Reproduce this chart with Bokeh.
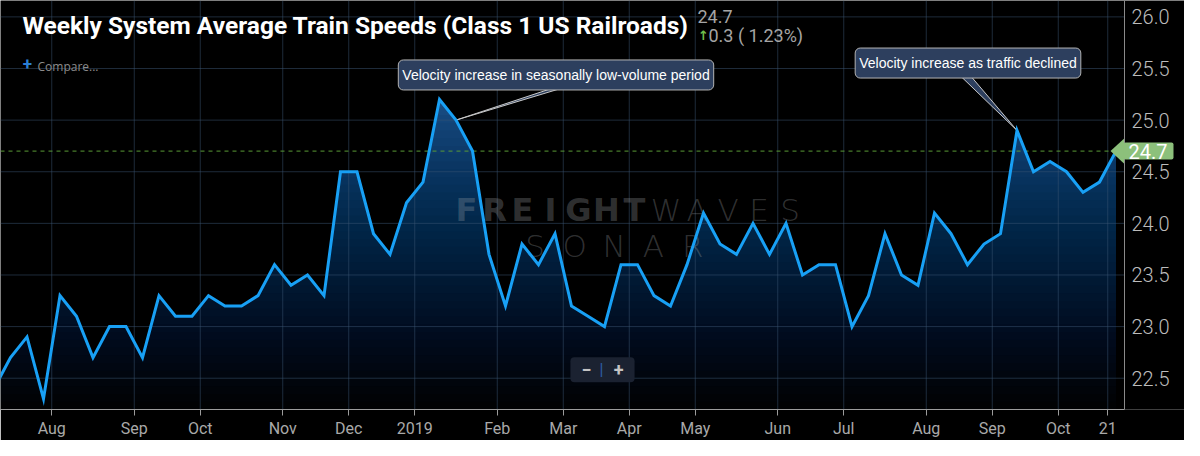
import numpy as np
from bokeh.plotting import figure
from bokeh.models import Range1d, FixedTicker, Label, LinearAxis, NumeralTickFormatter
from bokeh.core.properties import value
from bokeh.embed import file_html
from bokeh.resources import INLINE

# ---------------- data ----------------
# weekly system average train speed (mph); first value is the week just before the visible window
speeds = [22.4,
          22.7, 22.9, 22.3, 23.3, 23.1, 22.7, 23.0, 23.0, 22.7, 23.3,
          23.1, 23.1, 23.3, 23.2, 23.2, 23.3, 23.6, 23.4, 23.5, 23.3,
          24.5, 24.5, 23.9, 23.7, 24.2, 24.4, 25.2, 25.0, 24.7, 23.7,
          23.2, 23.8, 23.6, 23.9, 23.2, 23.1, 23.0, 23.6, 23.6, 23.3,
          23.2, 23.6, 24.1, 23.8, 23.7, 24.0, 23.7, 24.0, 23.5, 23.6,
          23.6, 23.0, 23.3, 23.9, 23.5, 23.4, 24.1, 23.9, 23.6, 23.8,
          23.9, 24.9, 24.5, 24.6, 24.5, 24.3, 24.4, 24.7]
weeks = list(range(len(speeds)))

month_ticks = [3.5, 8.5, 12.5, 17.5, 21.5, 25.5, 30.5, 34.5, 38.5, 42.5,
               47.5, 51.5, 56.5, 60.5, 64.5, 67.5]
month_labels = ["Aug", "Sep", "Oct", "Nov", "Dec", "2019", "Feb", "Mar", "Apr",
                "May", "Jun", "Jul", "Aug", "Sep", "Oct", "21"]
y_ticks = [22.5, 23.0, 23.5, 24.0, 24.5, 25.0, 25.5, 26.0]

latest = speeds[-1]
change = 0.3
change_pct = 1.23
title_text = "Weekly System Average Train Speeds (Class 1 US Railroads)"
note1_text = "Velocity increase in seasonally low-volume period"
note1_week = 28
note2_text = "Velocity increase as traffic declined"
note2_week = 62

# ---------------- layout helpers (screen px of the frame -> data units) ----------------
PX0, PXW = -6.5, 16.5
PY0, PYH = 16.5, 104.0


def fx(px):
    return (px - PX0) / PXW


def fy(py):
    return 26.0 - (py - PY0) / PYH


x0, xe, x1 = fx(0), fx(1124), fx(1184)   # plot edge at 1124px, canvas edge at 1184px
y0, y1 = fy(412), fy(0)

p = figure(width=1184, height=440, x_range=Range1d(x0, x1), y_range=Range1d(y0, y1),
           output_backend="svg", toolbar_location=None, y_axis_location=None,
           min_border_left=0, min_border_top=0, min_border_right=0, min_border_bottom=28,
           background_fill_color="#000000", border_fill_color="#000000",
           outline_line_color=None)
for g in p.grid:
    g.grid_line_color = None
    g.visible = False

# ---------------- gradient area (stacked translucent layers) ----------------
N = 40
top_color = "#194d84"
ytop = max(speeds)


def clip_above(xs, ys, L):
    px, py = [], []
    for i in range(len(xs)):
        if i > 0:
            a, b = ys[i - 1], ys[i]
            if (a - L) * (b - L) < 0:
                t = (L - a) / (b - a)
                px.append(xs[i - 1] + t * (xs[i] - xs[i - 1]))
                py.append(L)
        px.append(xs[i])
        py.append(max(ys[i], L))
    return px, py


for k in range(N):
    L = y0 + (ytop - y0) * k / N
    cx, cy = clip_above(weeks, speeds, L)
    p.varea(x=cx, y1=[L] * len(cx), y2=cy, fill_color=top_color,
            fill_alpha=1.0 / (N - k))

# ---------------- grid (drawn over fill, under line) ----------------
grid_col = "#3b5573"
p.segment(x0=month_ticks, x1=month_ticks, y0=[y0] * len(month_ticks), y1=[y1] * len(month_ticks),
          line_color=grid_col, line_alpha=0.5, line_width=1)
p.segment(x0=[x0] * len(y_ticks), x1=[xe] * len(y_ticks), y0=y_ticks, y1=y_ticks,
          line_color=grid_col, line_alpha=0.5, line_width=1)

# ---------------- watermark ----------------
def spread(word, left, right):
    n = len(word)
    w = (right - left) / n
    return [fx(left + w * (i + 0.5)) for i in range(n)], list(word)


wm_col = "#a0a4a8"
wx, wt = spread("FREIGHT", 452, 648)
p.text(x=wx, y=[fy(211)] * len(wx), text=wt, text_font=value("DejaVu Sans"), text_font_style="bold",
       text_font_size="32px", text_align="center", text_baseline="middle",
       text_color=wm_col, text_alpha=0.3)
wx, wt = spread("WAVES", 650, 805)
p.text(x=wx, y=[fy(211)] * len(wx), text=wt,
       text_font=value("DejaVu Sans ExtraLight, DejaVu Sans Light, Lato Light, Lato"),
       text_font_size="31px", text_align="center", text_baseline="middle",
       text_color=wm_col, text_alpha=0.3)
wx, wt = spread("SONAR", 515, 712)
p.text(x=wx, y=[fy(247)] * len(wx), text=wt,
       text_font=value("DejaVu Sans ExtraLight, DejaVu Sans Light, Lato Light, Lato"),
       text_font_size="31px", text_align="center", text_baseline="middle",
       text_color=wm_col, text_alpha=0.3)

# ---------------- latest-value dashed line ----------------
p.segment(x0=[x0], x1=[xe], y0=[latest], y1=[latest], line_color="#5a9a36",
          line_dash="4 4", line_width=1)

# ---------------- callout pointers ----------------
box_col = "#2d3f5e"
p.patch(x=[fx(550), fx(559), weeks[note1_week]], y=[fy(89), fy(89), speeds[note1_week]],
        fill_color=box_col, line_color="#c8c8c8", line_width=1)
p.patch(x=[fx(961), fx(971), weeks[note2_week]], y=[fy(77), fy(77), speeds[note2_week]],
        fill_color=box_col, line_color="#c8c8c8", line_width=1)

# ---------------- main series ----------------
p.line(weeks, speeds, line_color="#18a0f5", line_width=3, line_join="miter")

# green tag tip
half = 13.0 / PYH
p.patch(x=[fx(1110), fx(1124), fx(1124)], y=[latest, latest + half, latest - half],
        fill_color="#8cc07b", line_color=None)

# ---------------- axes ----------------
xa = p.xaxis[0]
xa.bounds = (x0, xe)
xa.ticker = FixedTicker(ticks=month_ticks)
xa.major_label_overrides = {t: l for t, l in zip(month_ticks, month_labels)}
xa.minor_tick_line_color = None
xa.axis_line_color = "#9c9c9c"
xa.major_tick_line_color = "#9c9c9c"
xa.major_tick_out = 6
xa.major_tick_in = 0
xa.major_label_standoff = 3
xa.major_label_text_color = "#a9a9a9"
xa.major_label_text_font = "Roboto"
xa.major_label_text_font_size = "16px"

ya = LinearAxis(fixed_location=xe, ticker=FixedTicker(ticks=y_ticks),
                formatter=NumeralTickFormatter(format="0.0"))
ya.minor_tick_line_color = None
ya.major_tick_line_color = None
ya.major_tick_out = 0
ya.major_tick_in = 0
ya.axis_line_color = "#8a8a8a"
ya.major_label_standoff = 7
ya.major_label_text_color = "#bcbcbc"
ya.major_label_text_font = "Roboto Light, Roboto"
ya.major_label_text_font_size = "20px"
p.add_layout(ya, "right")

# ---------------- texts ----------------
p.add_layout(Label(x=fx(22), y=fy(25), text=title_text, text_font="Roboto",
                   text_font_style="bold", text_font_size="24.5px", text_color="#ffffff",
                   text_baseline="middle"))
p.add_layout(Label(x=fx(697), y=fy(16.5), text=f"{latest:.1f}", text_font="Roboto",
                   text_font_size="18px", text_color="#a5a5a5", text_baseline="middle"))
p.add_layout(Label(x=fx(703), y=fy(35), text="\u2191", text_font="DejaVu Sans",
                   text_font_style="bold", text_font_size="13px", text_color="#6fbf4b",
                   text_align="center", text_baseline="middle"))
p.add_layout(Label(x=fx(708), y=fy(35.5), text=f"{change:.1f} ( {change_pct:.2f}%)",
                   text_font="Roboto", text_font_size="18px", text_color="#a5a5a5",
                   text_baseline="middle"))
p.add_layout(Label(x=fx(27), y=fy(64), text="+", text_font="Roboto", text_font_style="bold",
                   text_font_size="17px", text_color="#2b7fd4", text_align="center",
                   text_baseline="middle"))
p.add_layout(Label(x=fx(37), y=fy(66), text="Compare...", text_font="Open Sans",
                   text_font_size="12px", text_color="#8c8c8c", text_baseline="middle"))

# callout boxes
for txt, cxp, cyp in [(note1_text, 555.5, 75), (note2_text, 967.5, 63)]:
    p.add_layout(Label(x=fx(cxp), y=fy(cyp), text=txt, text_font="Liberation Sans",
                       text_font_size="14px", text_color="#ffffff", text_align="center",
                       text_baseline="middle", background_fill_color=box_col,
                       background_fill_alpha=1.0, border_line_color="#b4b4b4",
                       border_line_width=1, border_radius=5,
                       padding=dict(left=4, right=4, top=7, bottom=7)))

# latest value tag
p.add_layout(Label(x=fx(1123), y=latest, text=f"{latest:.1f}", text_font="Roboto",
                   text_font_size="20px", text_color="#ffffff", text_align="left",
                   text_baseline="middle", background_fill_color="#8cc07b",
                   background_fill_alpha=1.0, border_radius=2,
                   padding=dict(left=5, right=6, top=1, bottom=1)))

# zoom control
p.add_layout(Label(x=fx(602), y=fy(372), text="\u2212\u00a0\u00a0\u00a0\u00a0\u00a0+",
                   text_font="Roboto", text_font_style="bold", text_font_size="18px",
                   text_color="#c4c4c4", text_align="center", text_baseline="middle",
                   background_fill_color="#1b2231", background_fill_alpha=1.0,
                   border_radius=4, padding=dict(left=11, right=11, top=2, bottom=2)))
p.add_layout(Label(x=fx(601), y=fy(372), text="|", text_font="Roboto",
                   text_font_size="16px", text_color="#2d5ea6", text_align="center",
                   text_baseline="middle"))

open("out.html", "w").write(file_html(p, INLINE))
